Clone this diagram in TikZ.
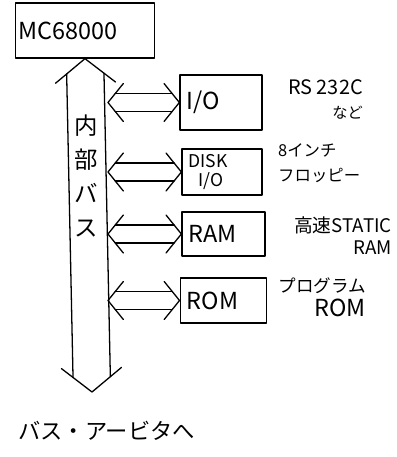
\documentclass[tikz,border=0pt]{standalone}
\usepackage{fontspec}
\setmainfont{Noto Sans CJK JP}
\usetikzlibrary{calc,positioning}
\tikzset{
pen/.style={line width=1.1pt,line join=round,line cap=round},
unit/.style={rectangle,draw,pen,align=left,inner xsep=2mm,font=\fontsize{20}{22}\selectfont},
note/.style={inner sep=0pt,font=\fontsize{15}{20}\selectfont}
}
% hollow double arrow: ends, half shaft, half head, head length (mm)
\newcommand\fatarrow[5]{%
  \pgfmathsetmacro\fad{#5*#3/#4}
  \coordinate (fa1) at ($(#1)!#5mm!(#2)$);
  \coordinate (fa2) at ($(#2)!#5mm!(#1)$);
  \coordinate (fa3) at ($(#1)!\fad mm!(#2)$);
  \coordinate (fa4) at ($(#2)!\fad mm!(#1)$);
  \draw[pen] ($(fa1)!#4mm!90:(#2)$) -- (#1) -- ($(fa1)!#4mm!-90:(#2)$);
  \draw[pen] ($(fa2)!#4mm!90:(#1)$) -- (#2) -- ($(fa2)!#4mm!-90:(#1)$);
  \draw[pen] ($(fa3)!#3mm!90:(#2)$) -- ($(fa4)!#3mm!-90:(#1)$);
  \draw[pen] ($(fa3)!#3mm!-90:(#2)$) -- ($(fa4)!#3mm!90:(#1)$);
}
\begin{document}
\begin{tikzpicture}[x=0.3mm,y=-0.3mm]
\useasboundingbox (0,0) rectangle (397,457);
\node[unit,text width=39.8mm,minimum height=16.5mm,inner xsep=1mm] (mc) at (85,30.5) {MC68000};
\node[unit,text width=20.6mm,minimum height=16.5mm] (io) at (221,102.5) {I/O};
\node[unit,text width=20mm,minimum height=13.8mm,font=\fontsize{15}{16}\selectfont] (disk) at (222,172) {DISK\\\hspace*{3mm}I/O};
\node[unit,text width=20.9mm,minimum height=13.2mm] (ram) at (223.5,234) {RAM};
\node[unit,text width=22mm,minimum height=13.5mm] (rom) at (223.5,300.5) {ROM};
% bus
\coordinate (busend) at (92,392);
\coordinate (busR) at (108,0);
\fatarrow{mc.south}{busend}{5.6}{9}{7.2}
\node[align=center,font=\fontsize{20}{29}\selectfont] (bus) at (86,176) {内\\部\\バ\\ス};
\foreach \n in {io,disk,ram,rom}{
  \coordinate (\n-l) at (busR |- \n.west);
  \fatarrow{\n-l}{\n.west}{2.7}{5.7}{4.6}
}
% side notes
\node[note,align=right,anchor=north east,font=\fontsize{17}{21}\selectfont] (rs) at (363,79) {RS 232C\\{\fontsize{13}{13}\selectfont など}};
\node[note,align=left,anchor=north west,font=\fontsize{14}{22}\selectfont] (fd) at (278,143) {8インチ\\フロッピー};
\node[note,align=right,anchor=north east,font=\fontsize{16}{19}\selectfont] (sram) at (392,216) {高速STATIC\\RAM};
\node[note,align=right,anchor=north east,font=\fontsize{15}{21}\selectfont] (prom) at (366,277) {プログラム\\{\fontsize{20}{20}\selectfont ROM}};
\node[font=\fontsize{19}{22}\selectfont,anchor=west,inner sep=0pt] (arb) at (18,431) {バス・アービタへ};
\end{tikzpicture}
\end{document}
